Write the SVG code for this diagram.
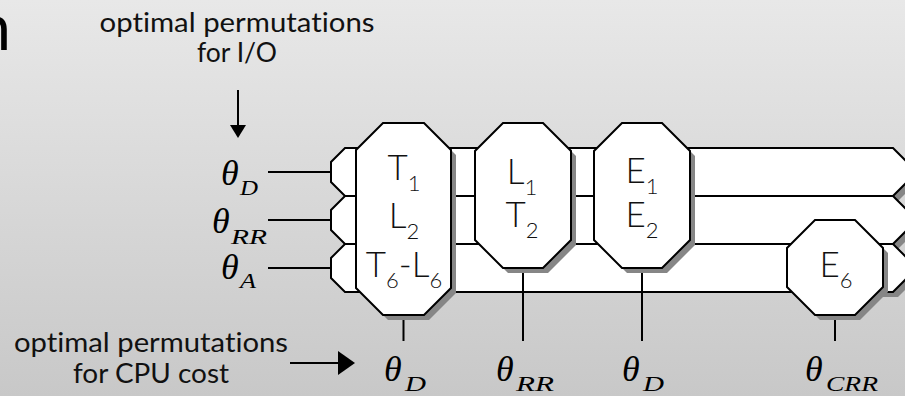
<svg xmlns="http://www.w3.org/2000/svg" width="905" height="396" viewBox="0 0 905 396">
<defs>
<linearGradient id="bg" x1="0" y1="0" x2="0" y2="1">
<stop offset="0" stop-color="#e8e8e8"/>
<stop offset="1" stop-color="#c8c8c8"/>
</linearGradient>
<clipPath id="tipclip"><rect x="880" y="0" width="40" height="396"/></clipPath>
<style>
.band{fill:#fff;stroke:#000;stroke-width:2;stroke-linejoin:miter}
.oct{fill:#fff;stroke:#000;stroke-width:2}
.shadow{fill:#868686;stroke:none}
.wire{stroke:#000;stroke-width:2;fill:none}
.head{fill:#000;stroke:none}
.lbl{font-family:Lato,"Open Sans","Liberation Sans",sans-serif;font-weight:400;font-size:26px;fill:#111;text-anchor:middle;font-variant-ligatures:none;font-feature-settings:"liga" 0}
.nt{font-family:Lato,"Open Sans","Liberation Sans",sans-serif;font-weight:300;font-size:35px;fill:#111;text-anchor:middle}
.sub{font-size:22px}
.th{font-family:"Liberation Serif","DejaVu Serif",serif;font-style:italic;font-size:36px;fill:#000}
.ts{font-family:"Liberation Serif","DejaVu Serif",serif;font-style:italic;font-size:22px;fill:#000}
</style>
</defs>
<rect x="0" y="0" width="905" height="396" fill="url(#bg)"/>
<text x="11" y="50" font-family="Lato,'Open Sans',sans-serif" font-size="63" text-anchor="end" fill="#000">n</text>

<g id="labels">
<text class="lbl" x="237" y="32" textLength="275" lengthAdjust="spacingAndGlyphs">optimal permutations</text>
<text class="lbl" x="237" y="62" textLength="80" lengthAdjust="spacingAndGlyphs">for I/O</text>
<text class="lbl" x="151" y="352" textLength="274" lengthAdjust="spacingAndGlyphs">optimal permutations</text>
<text class="lbl" x="151" y="383" textLength="156" lengthAdjust="spacingAndGlyphs">for CPU cost</text>
</g>

<g id="streams">
<g clip-path="url(#tipclip)">
<polygon class="shadow" points="350,153 898,153 912,167 912,187 898,201 350,201 336,187 336,167"/>
<polygon class="shadow" points="350,201 898,201 912,215 912,235 898,249 350,249 336,235 336,215"/>
<polygon class="shadow" points="350,249 898,249 912,263 912,283 898,297 350,297 336,283 336,263"/>
</g>
<g id="stream-D"><polygon class="band" points="345,148 893,148 907,162 907,182 893,196 345,196 331,182 331,162"/></g>
<g id="stream-RR"><polygon class="band" points="345,196 893,196 907,210 907,230 893,244 345,244 331,230 331,210"/></g>
<g id="stream-A"><polygon class="band" points="345,244 893,244 907,258 907,278 893,292 345,292 331,278 331,258"/></g>
</g>

<g id="connectors">
<line class="wire" x1="268" y1="172" x2="331" y2="172"/>
<line class="wire" x1="268" y1="220" x2="331" y2="220"/>
<line class="wire" x1="268" y1="268" x2="331" y2="268"/>
<line class="wire" x1="403.5" y1="315" x2="403.5" y2="341"/>
<line class="wire" x1="523" y1="268" x2="523" y2="341"/>
<line class="wire" x1="642" y1="268" x2="642" y2="341"/>
<line class="wire" x1="835" y1="315" x2="835" y2="341"/>
<line class="wire" x1="238" y1="90" x2="238" y2="126"/>
<polygon class="head" points="230,125 246,125 238,138"/>
<line class="wire" x1="290" y1="363" x2="340" y2="363"/>
<polygon class="head" points="338,351 355,363 338,375"/>
</g>

<g id="node-1">
<polygon class="shadow" points="388,128 429,128 456,155 456,293 429,320 388,320 361,293 361,155"/>
<polygon class="oct" points="383,123 424,123 451,150 451,288 424,315 383,315 356,288 356,150"/>
<text class="nt" x="404" y="180">T<tspan class="sub" dy="11">1</tspan></text>
<text class="nt" x="404" y="228">L<tspan class="sub" dy="11">2</tspan></text>
<text class="nt" x="404" y="277">T<tspan class="sub" dy="11">6</tspan><tspan dy="-11">-L</tspan><tspan class="sub" dy="11">6</tspan></text>
</g>

<g id="node-2">
<polygon class="shadow" points="508,128 548,128 576,156 576,245 548,273 508,273 480,245 480,156"/>
<polygon class="oct" points="503,123 543,123 571,151 571,240 543,268 503,268 475,240 475,151"/>
<text class="nt" x="522" y="184">L<tspan class="sub" dy="11">1</tspan></text>
<text class="nt" x="522" y="227">T<tspan class="sub" dy="11">2</tspan></text>
</g>

<g id="node-3">
<polygon class="shadow" points="627,128 667,128 695,156 695,245 667,273 627,273 599,245 599,156"/>
<polygon class="oct" points="622,123 662,123 690,151 690,240 662,268 622,268 594,240 594,151"/>
<text class="nt" x="642" y="183">E<tspan class="sub" dy="11">1</tspan></text>
<text class="nt" x="642" y="227">E<tspan class="sub" dy="11">2</tspan></text>
</g>

<g id="node-4">
<polygon class="shadow" points="820,225 860,225 888,253 888,292 860,320 820,320 792,292 792,253"/>
<polygon class="oct" points="815,220 855,220 883,248 883,287 855,315 815,315 787,287 787,248"/>
<text class="nt" x="836" y="277">E<tspan class="sub" dy="11">6</tspan></text>
</g>

<g id="thetas">
<text class="th" x="221" y="185">θ</text><text class="ts" x="240" y="195" textLength="18" lengthAdjust="spacingAndGlyphs">D</text>
<text class="th" x="212" y="233">θ</text><text class="ts" x="231" y="244" textLength="36" lengthAdjust="spacingAndGlyphs">RR</text>
<text class="th" x="221" y="279">θ</text><text class="ts" x="240" y="288" textLength="16" lengthAdjust="spacingAndGlyphs">A</text>
<text class="th" x="384" y="381">θ</text><text class="ts" x="405" y="391" textLength="21" lengthAdjust="spacingAndGlyphs">D</text>
<text class="th" x="496" y="381">θ</text><text class="ts" x="516" y="391" textLength="38" lengthAdjust="spacingAndGlyphs">RR</text>
<text class="th" x="622" y="381">θ</text><text class="ts" x="643" y="391" textLength="21" lengthAdjust="spacingAndGlyphs">D</text>
<text class="th" x="805" y="381">θ</text><text class="ts" x="826" y="391" textLength="52" lengthAdjust="spacingAndGlyphs">CRR</text>
</g>
</svg>
